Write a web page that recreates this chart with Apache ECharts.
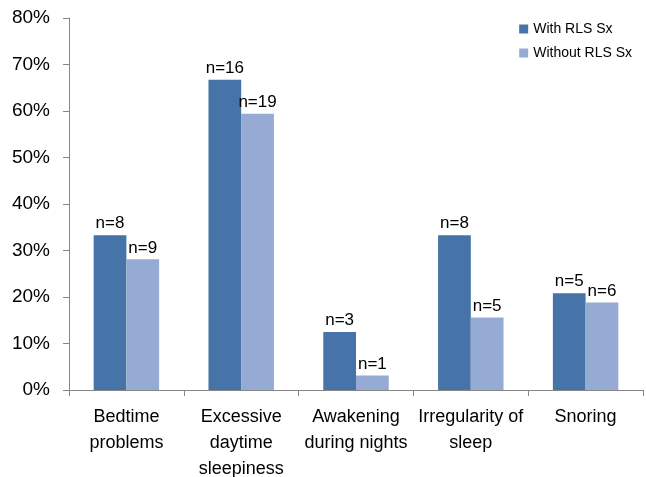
<!DOCTYPE html>
<html><head><meta charset="utf-8">
<script src="https://cdn.jsdelivr.net/npm/echarts@6/dist/echarts.min.js"></script>
<style>html,body{margin:0;padding:0;background:#fff}#c{width:646px;height:477px}</style>
</head><body><div id="c"></div>
<script>
const categories = ['Bedtime\nproblems', 'Excessive\ndaytime\nsleepiness', 'Awakening\nduring nights', 'Irregularity of\nsleep', 'Snoring'];
const withRLS = [33.3, 66.7, 12.5, 33.3, 20.8];
const withoutRLS = [28.1, 59.4, 3.1, 15.6, 18.8];
const withN = ['n=8', 'n=16', 'n=3', 'n=8', 'n=5'];
const withoutN = ['n=9', 'n=19', 'n=1', 'n=5', 'n=6'];
const yTicks = ['0%','10%','20%','30%','40%','50%','60%','70%','80%'];
const FONT = '"Liberation Sans", Arial, sans-serif';
const chart = echarts.init(document.getElementById('c'));
chart.setOption({
  animation: false,
  textStyle: {fontFamily: FONT},
  grid: {left: 69, right: 3, top: 18, bottom: 87, containLabel: false, outerBoundsMode: 'none'},
  legend: {
    orient: 'vertical', right: 14, top: 22, itemWidth: 9, itemHeight: 9, itemGap: 10,
    icon: 'rect', padding: 0,
    textStyle: {fontFamily: FONT, fontSize: 14, color: '#000'},
    data: ['With RLS Sx', 'Without RLS Sx']
  },
  xAxis: {
    type: 'category', data: categories,
    axisLine: {lineStyle: {color: '#868686'}},
    axisTick: {show: true, length: 6, lineStyle: {color: '#868686'}},
    axisLabel: {fontFamily: FONT, fontSize: 18, color: '#000', lineHeight: 26, margin: 14, interval: 0}
  },
  yAxis: {
    type: 'value', min: 0, max: 80, interval: 10,
    axisLine: {show: true, lineStyle: {color: '#868686'}},
    axisTick: {show: true, length: 6, lineStyle: {color: '#868686'}},
    splitLine: {show: false},
    axisLabel: {fontFamily: FONT, fontSize: 19, color: '#000', margin: 19,
      formatter: v => yTicks[Math.round(v/10)]}
  },
  series: [
    {name: 'With RLS Sx', type: 'bar', data: withRLS, barGap: '0%', barCategoryGap: '43%',
     itemStyle: {color: '#4673A8'},
     label: {show: true, position: 'top', distance: 3, fontFamily: FONT, fontSize: 17, color: '#000',
       formatter: p => withN[p.dataIndex]}},
    {name: 'Without RLS Sx', type: 'bar', data: withoutRLS,
     itemStyle: {color: '#95ABD3'},
     label: {show: true, position: 'top', distance: 3, fontFamily: FONT, fontSize: 17, color: '#000',
       formatter: p => withoutN[p.dataIndex]}}
  ]
});
</script></body></html>
